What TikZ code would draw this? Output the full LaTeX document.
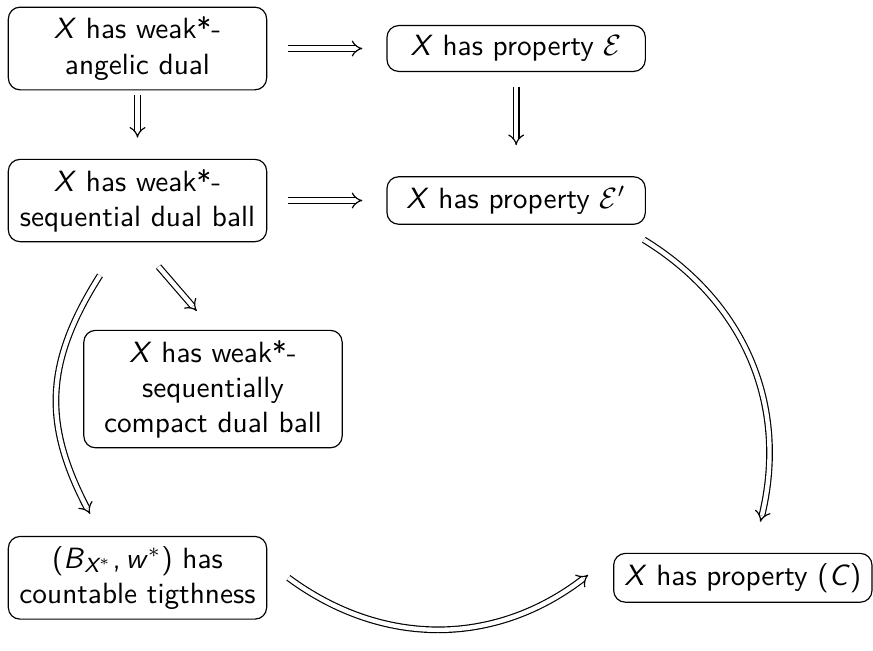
\documentclass[tikz,border=0pt]{standalone}
\usepackage{amsmath}
\usetikzlibrary{arrows.meta, positioning}

\begin{document}
\sffamily
\begin{tikzpicture}[node distance=0.82cm and 1.43cm,
                    prop/.style={rectangle, draw, align=center, rounded corners, minimum width=3.1cm},
                    implication/.style={double, double distance=1.5pt, -{Implies}}]

    % Main Nodes
    \node[prop] (angelic) {\textit{X} has weak*-\\angelic dual};
    \node[prop, right=of angelic] (propE) {\textit{X} has property $\mathcal{E}$};
    \node[prop, below=of angelic] (seqball) {\textit{X} has weak*-\\sequential dual ball};
    \node[prop, right=of seqball] (propEp) {\textit{X} has property $\mathcal{E}'$};
    \node[prop, below=of seqball, yshift=-0.23cm, xshift=0.906cm] (compact) {\textit{X} has weak*-\\sequentially\\compact dual ball};
    \node[prop, below=of compact, yshift=-0.23cm, xshift=-0.906cm] (tightness) {(\textit{B}$_{\textit{X}^*}$,\,\textit{w}$^*$) has\\countable tigthness};
    \node[prop, right=of tightness, xshift=2.72cm] (propC) {\textit{X} has property (\textit{C})};

    % Straight implications
    \draw[implication, shorten <=7.2pt, shorten >=8.2pt] (angelic) -- (propE);
    \draw[implication, shorten <=7.2pt, shorten >=8.2pt] (seqball) -- (propEp);
    \draw[implication, shorten <=1.7pt, shorten >=7.2pt] (angelic) -- (seqball);
    \draw[implication, shorten <=5.1pt, shorten >=10.6pt] (propE) -- (propEp);
    \draw[implication, shorten <=11pt, shorten >=8.5pt] (seqball.south) -- (compact.north);

    % Curved implications
    \draw[implication] ([xshift=-12.8pt, yshift=-11.3pt]seqball.south) to[bend right=30, looseness=1.1] ([xshift=-16.2pt, yshift=7.5pt]tightness.north);
    \draw[implication] ([xshift=-0.7pt, yshift=-5.1pt]propEp.south east) to[bend left=36] ([xshift=6pt, yshift=10.6pt]propC.north);
    \draw[implication] ([xshift=7.2pt]tightness.east) to[bend right=37] ([xshift=-8.5pt, yshift=1pt]propC.west);

    \useasboundingbox (-1.65,0.582) rectangle (8.826,-6.906);

\end{tikzpicture}
\end{document}
